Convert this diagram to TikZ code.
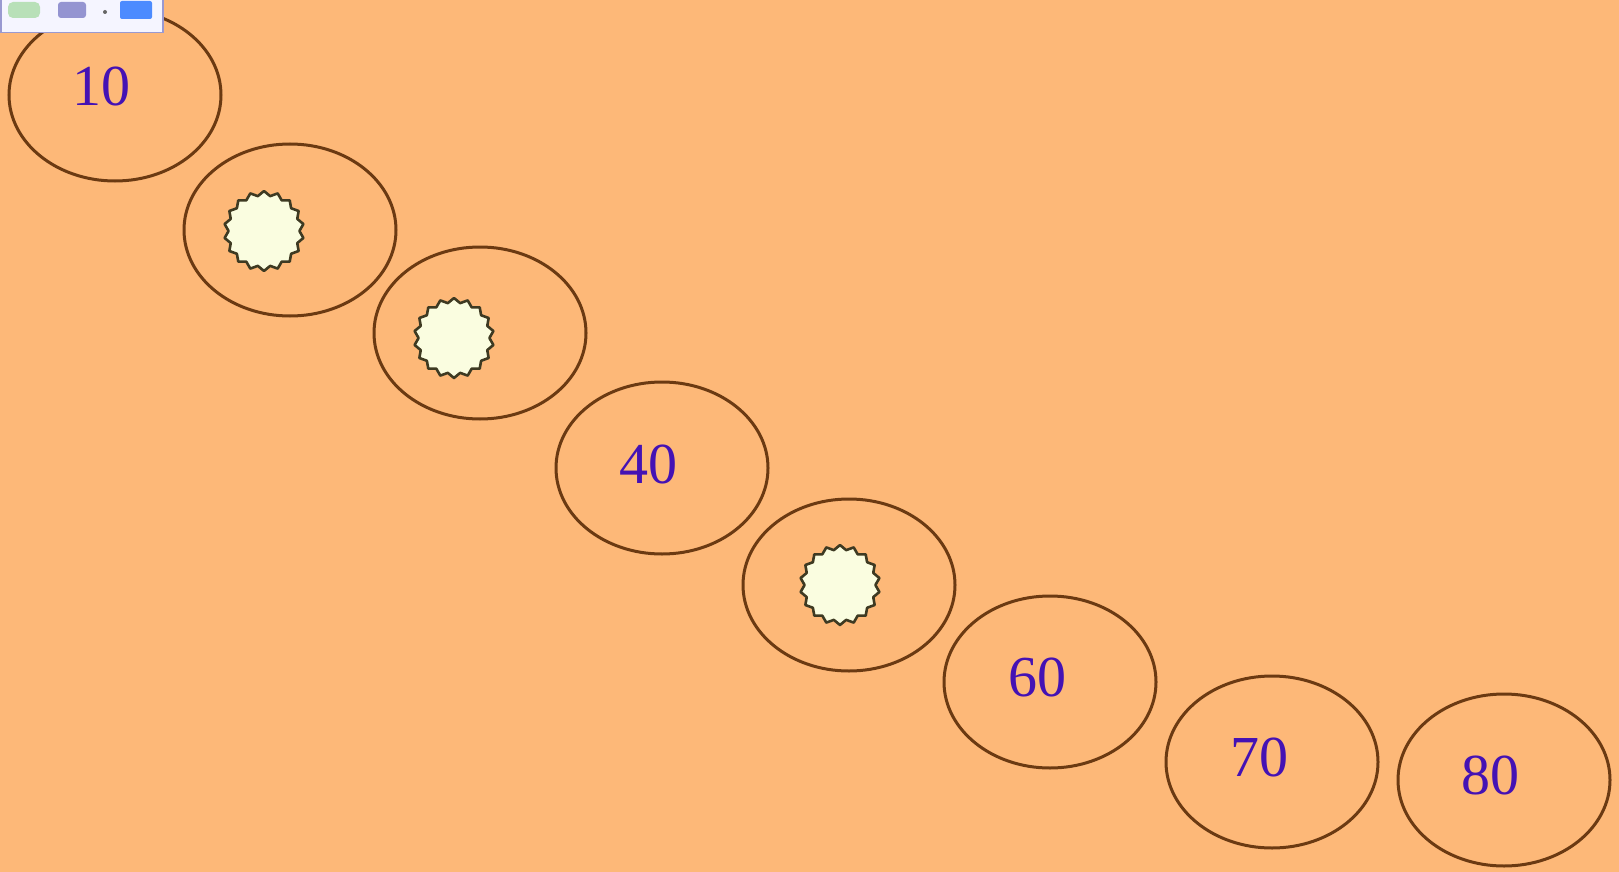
\documentclass[tikz,border=0pt]{standalone}
\usepackage{fontspec}
\setmainfont{Liberation Serif}
\usetikzlibrary{shapes.geometric}
\definecolor{bg}{HTML}{FDB878}
\definecolor{ring}{HTML}{6B3A12}
\definecolor{num}{HTML}{4412B4}
\definecolor{starfill}{HTML}{FAFDE0}
\definecolor{starline}{HTML}{3E3A22}
\tikzset{
  ringnode/.style={ellipse, draw=ring, line width=3pt, minimum width=212pt, minimum height=172pt, inner sep=0pt},
  numtext/.style={text=num, font=\fontsize{58}{60}\selectfont, inner sep=0pt},
  burst/.style={star, star points=18, star point ratio=1.13, minimum size=80pt, inner sep=0pt, fill=starfill, draw=starline, line width=2.6pt, line join=round},
}
\begin{document}
\begin{tikzpicture}[x=1pt,y=-1pt]
\fill[bg] (0,0) rectangle (1619,872);
\useasboundingbox (0,0) rectangle (1619,872);
% ellipses
\node[ringnode] (e1) at (115,95) {};
\node[ringnode] (e2) at (290,230) {};
\node[ringnode] (e3) at (480,333) {};
\node[ringnode] (e4) at (662,468) {};
\node[ringnode] (e5) at (849,585) {};
\node[ringnode] (e6) at (1050,682) {};
\node[ringnode] (e7) at (1272,762) {};
\node[ringnode] (e8) at (1504,780) {};
% labels
\node[numtext] (t1) at (101,86) {10};
\node[numtext] (t4) at (648,464) {40};
\node[numtext] (t6) at (1037,677) {60};
\node[numtext] (t7) at (1259,757) {70};
\node[numtext] (t8) at (1490,775) {80};
% starbursts
\node[burst] (s2) at (264,231) {};
\node[burst] (s3) at (454,338) {};
\node[burst] (s5) at (840,585) {};
% toolbar fragment
\node[draw=black!45!blue!40, line width=1.5pt, fill=blue!4!white, minimum width=162pt, minimum height=36pt, anchor=north west, inner sep=0pt] (tb) at (0,-4) {};
\node[fill=gray!60!green!40, minimum width=32pt, minimum height=16pt, inner sep=0pt, rounded corners=5pt] (i1) at (24,10) {};
\node[fill=blue!40!gray!60, minimum width=28pt, minimum height=16pt, inner sep=0pt, rounded corners=3pt] (i2) at (72,10) {};
\node[fill=black!60, circle, minimum size=4pt, inner sep=0pt] (i3) at (105,12) {};
\node[fill=blue!65!cyan!70, minimum width=32pt, minimum height=18pt, inner sep=0pt, rounded corners=2pt] (i4) at (136,10) {};
\end{tikzpicture}
\end{document}
